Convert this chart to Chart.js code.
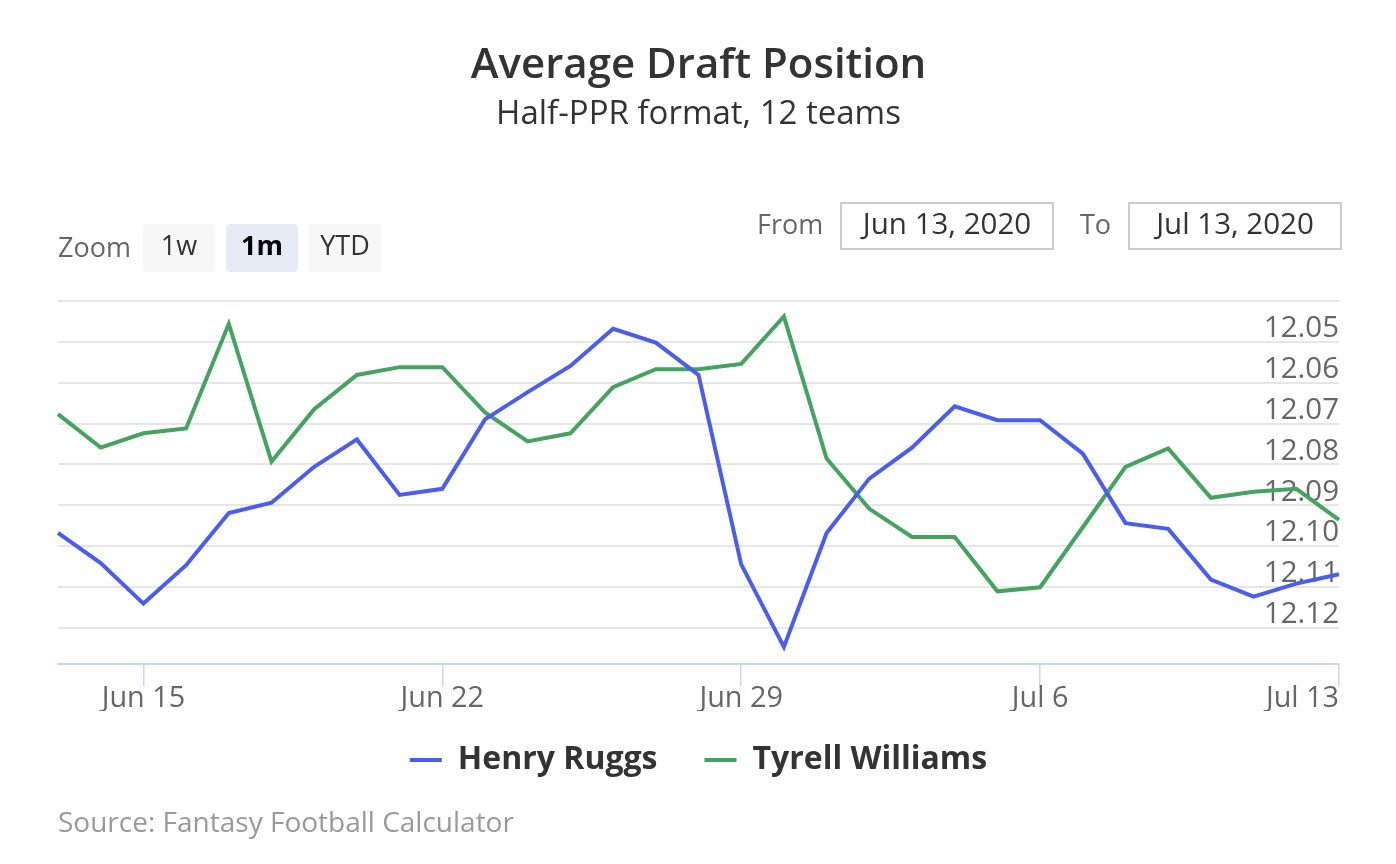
<!DOCTYPE html>
<html><head><meta charset="utf-8">
<script src="https://cdn.jsdelivr.net/npm/chart.js@4/dist/chart.umd.min.js"></script>
<style>
body{margin:0;background:#fff;font-family:'Open Sans',sans-serif;}
#wrap{position:relative;width:1396px;height:864px;overflow:hidden;}
canvas{position:absolute;left:0;top:0;}
.lbl{position:absolute;color:#666;font-size:27px;line-height:30px;white-space:nowrap;}
.btn{position:absolute;top:224px;height:48px;width:72px;border-radius:4px;background:#f7f7f7;color:#333;font-size:27px;display:flex;align-items:center;justify-content:center;box-sizing:border-box;padding-bottom:7px;}
.inp{position:absolute;top:202px;height:48px;border:2px solid #ccc;color:#333;font-size:29.5px;display:flex;align-items:center;justify-content:center;box-sizing:border-box;white-space:nowrap;padding-bottom:8px;}
</style></head>
<body><div id="wrap"><canvas id="c" width="1396" height="864"></canvas>
<div class="lbl" style="left:58px;top:232px">Zoom</div>
<div class="btn" style="left:143px">1w</div>
<div class="btn" style="left:226px;background:#e6ebf5;color:#000;font-weight:bold">1m</div>
<div class="btn" style="left:309px">YTD</div>
<div class="lbl" style="left:757px;top:209px">From</div>
<div class="inp" style="left:840px;width:214px">Jun 13, 2020</div>
<div class="lbl" style="left:1080px;top:209px">To</div>
<div class="inp" style="left:1128px;width:214px">Jul 13, 2020</div>
<div class="lbl" style="left:58px;top:806px;color:#999;font-size:28px">Source: Fantasy Football Calculator</div>
</div>
<script>
const categories = ['Jun 13','Jun 14','Jun 15','Jun 16','Jun 17','Jun 18','Jun 19','Jun 20','Jun 21','Jun 22','Jun 23','Jun 24','Jun 25','Jun 26','Jun 27','Jun 28','Jun 29','Jun 30','Jul 1','Jul 2','Jul 3','Jul 4','Jul 5','Jul 6','Jul 7','Jul 8','Jul 9','Jul 10','Jul 11','Jul 12','Jul 13'];
const henryRuggs = [12.0968,12.1042,12.1141,12.1047,12.0919,12.0894,12.0806,12.0739,12.0875,12.0860,12.0690,12.0623,12.0559,12.0468,12.0502,12.0581,12.1045,12.1247,12.0968,12.0835,12.0759,12.0658,12.0692,12.0692,12.0774,12.0944,12.0958,12.1082,12.1124,12.1092,12.1069];
const tyrellWilliams = [12.0677,12.0759,12.0724,12.0712,12.0456,12.0793,12.0665,12.0581,12.0562,12.0562,12.0673,12.0744,12.0724,12.0611,12.0567,12.0567,12.0554,12.0438,12.0786,12.0909,12.0978,12.0978,12.1111,12.1101,12.0954,12.0806,12.0761,12.0882,12.0867,12.0860,12.0936];
const xTickLabels = ['Jun 15','Jun 22','Jun 29','Jul 6','Jul 13'];
const yTickValues = [12.04,12.05,12.06,12.07,12.08,12.09,12.10,12.11,12.12];

const legendShift = {id:'legendShift', afterLayout(chart){ const l = chart.legend; if (l) { l.top -= 14; l.bottom -= 14; } }};

Chart.defaults.font.family = "'Open Sans', sans-serif";
new Chart(document.getElementById('c'), {
  type: 'line',
  data: {
    labels: categories,
    datasets: [
      {label:'Henry Ruggs', data:henryRuggs, borderColor:'#4b5cf0', backgroundColor:'#4b5cf0', borderWidth:4, pointRadius:0, tension:0},
      {label:'Tyrell Williams', data:tyrellWilliams, borderColor:'#44a35f', backgroundColor:'#44a35f', borderWidth:4, pointRadius:0, tension:0}
    ]
  },
  plugins:[legendShift],
  options: {
    responsive:false, animation:false,
    layout:{padding:{left:58,right:57,bottom:64}},
    plugins:{
      title:{display:true,text:'Average Draft Position',color:'#333',font:{size:42,weight:'600'},padding:{top:41,bottom:0}},
      subtitle:{display:true,text:'Half-PPR format, 12 teams',color:'#333',font:{size:33},padding:{top:3,bottom:167}},
      legend:{position:'bottom',labels:{usePointStyle:true,pointStyle:'line',pointStyleWidth:32,color:'#333',font:{size:32,weight:'bold'},padding:47}},
      tooltip:{enabled:false}
    },
    scales:{
      x:{
        grid:{drawOnChartArea:false,tickLength:22,lineWidth:1.5,color:(c)=> xTickLabels.includes(categories[c.index]) ? '#ccd6eb' : 'rgba(0,0,0,0)'},
        border:{color:'#ccd6eb',width:2},
        ticks:{autoSkip:false,maxRotation:0,minRotation:0,align:'inner',padding:-5,color:'#666',font:{size:28.8},
          callback:function(v){const l=this.getLabelForValue(v);return xTickLabels.includes(l)?l:'';}}
      },
      y:{
        position:'right',reverse:true,min:12.04,max:12.129,
        afterBuildTicks:(s)=>{s.ticks=yTickValues.map(v=>({value:v}));},
        grid:{color:'#e6e6e6',lineWidth:2,drawTicks:false},
        border:{display:false},
        ticks:{mirror:true,padding:0,labelOffset:-13,color:'#666',font:{size:29.5},
          callback:(v)=> v<12.045 ? '' : v.toFixed(2)}
      }
    }
  }
});
</script>
</body></html>
